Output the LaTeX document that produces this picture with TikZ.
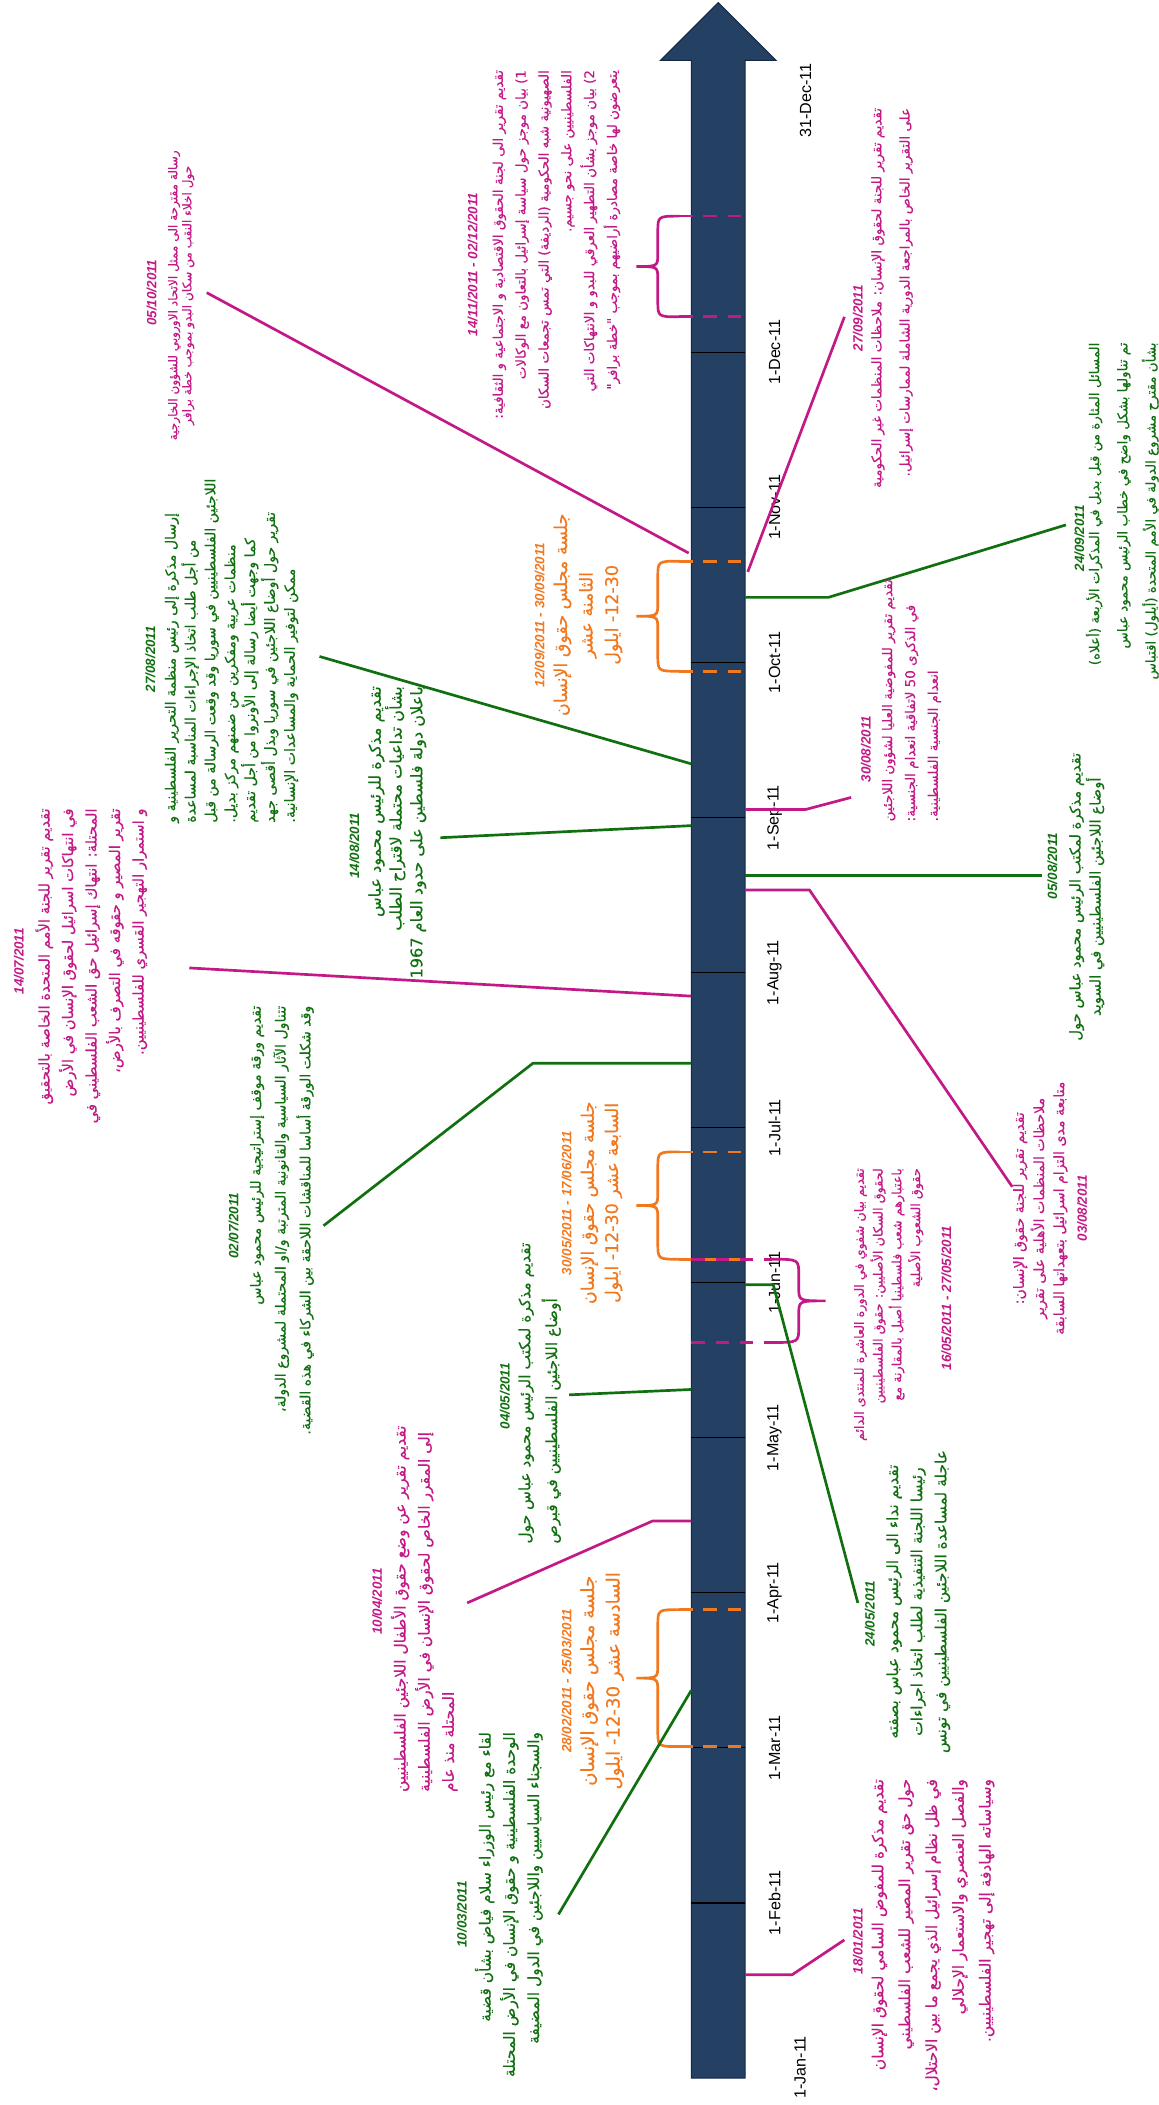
\documentclass[tikz,border=0pt]{standalone}
\usepackage{fontspec}
\setmainfont{Liberation Sans}
\newfontfamily\ar[Script=Arabic,FakeBold=0.4]{DejaVu Sans}
\newfontfamily\lat{Liberation Sans}
\TeXXeTstate=1
\newcommand{\RL}[1]{\beginR #1\endR}
\newcommand{\AF}[2]{\ar\fontsize{#1}{#2}\selectfont}
\definecolor{mag}{RGB}{195,25,135}
\definecolor{grn}{RGB}{16,112,16}
\definecolor{org}{RGB}{242,120,30}
\definecolor{navy}{RGB}{36,64,98}
\definecolor{navyd}{RGB}{20,40,70}
\newcommand{\brk}[5]{% style, flat x, tip x, ytop, ybot
 \pgfmathsetmacro\bmx{(#2+#3)/2}\pgfmathsetmacro\bmy{(#4+#5)/2}
 \draw[#1] (#2,#4) .. controls (\bmx,#4) .. (\bmx,#4+12) -- (\bmx,\bmy-10) .. controls (\bmx,\bmy) .. (#3,\bmy) .. controls (\bmx,\bmy) .. (\bmx,\bmy+10) -- (\bmx,#5-12) .. controls (\bmx,#5) .. (#2,#5);}
\tikzset{
 dt/.style={rotate=90, inner sep=0pt, font=\lat\bfseries\itshape\fontsize{10}{12}\selectfont},
 bd/.style={rotate=90, inner sep=0pt},
 mlab/.style={rotate=90, inner sep=0pt, font=\lat\fontsize{12}{14}\selectfont},
 con/.style={line width=2pt},
 dsh/.style={line width=2pt, dash pattern=on 10pt off 8pt},
 brkl/.style={line width=2pt},
 divl/.style={line width=0.8pt, black}
}
\begin{document}
\begin{tikzpicture}[x=1pt,y=-1pt]
\useasboundingbox (0,0) rectangle (863,1568);
\clip (0,0) rectangle (863,1568);
% timeline arrow
\fill[navy, draw=navyd, line width=0.8pt] (515,1548) -- (515,45) -- (492,45) -- (535,2) -- (578,45) -- (555,45) -- (555,1548) -- cycle;
\foreach \yy in {1417.5,1302,1186.5,1071,955.5,840,724.5,609,493.5,378,262.5}
  \draw[divl] (515,\yy) -- (555,\yy);
% month labels
\node[mlab] (m1) at (596,1540) {1-Jan-11};
\node[mlab] (m2) at (577,1417.5) {1-Feb-11};
\node[mlab] (m3) at (577,1302) {1-Mar-11};
\node[mlab] (m4) at (577,1186.5) {1-Apr-11};
\node[mlab] (m5) at (577,1071) {1-May-11};
\node[mlab] (m6) at (577,955.5) {1-Jun-11};
\node[mlab] (m7) at (577,840) {1-Jul-11};
\node[mlab] (m8) at (577,724.5) {1-Aug-11};
\node[mlab] (m9) at (577,609) {1-Sep-11};
\node[mlab] (m10) at (577,493.5) {1-Oct-11};
\node[mlab] (m11) at (577,378) {1-Nov-11};
\node[mlab] (m12) at (577,262.5) {1-Dec-11};
\node[mlab] (m13) at (600,75) {31-Dec-11};

% ---------- brackets ----------
\draw[dsh, mag] (506,161) -- (555,161);
\draw[dsh, mag] (506,236) -- (555,236);
\brk{brkl, mag}{506}{474}{161}{236}
\draw[dsh, org] (506,418) -- (555,418);
\draw[dsh, org] (506,500) -- (555,500);
\brk{brkl, org}{506}{474}{418}{500}
\draw[dsh, org] (506,858) -- (555,858);
\draw[dsh, org] (506,938) -- (555,938);
\brk{brkl, org}{506}{474}{858}{938}
\draw[dsh, org] (506,1199) -- (555,1199);
\draw[dsh, org] (506,1301) -- (555,1301);
\brk{brkl, org}{506}{474}{1199}{1301}
\draw[dsh, mag] (515,938) -- (575,938);
\draw[dsh, mag] (515,1000) -- (575,1000);
\brk{brkl, mag}{575}{615}{938}{1000}

% ---------- A 05/10/2011 ----------
\node[dt, text=mag] (dA) at (113,218) {05/10/2011};
\node[bd, text=mag, font=\AF{9}{10.5}, align=center] (bA) at (135,220)
 {\RL{رسالة مقترحة الى ممثل الاتحاد الاوروبي للشؤون الخارجية}\\\RL{حول اخلاء النقب من سكان البدو بموجب خطة برافر}};
\coordinate (cA1) at (154,218); \coordinate (cA2) at (513,412);
\draw[con, mag] (cA1) -- (cA2);

% ---------- B 14/11 - 02/12 ----------
\node[dt, text=mag] (dB) at (352,197) {14/11/2011 - 02/12/2011};
\node[bd, text=mag, font=\AF{10}{17}, align=right, anchor=east] (bB) at (414.5,52)
 {\RL{تقديم تقرير الى لجنة الحقوق الاقتصادية و الاجتماعية و الثقافية:}\\
  \RL{1) بيان موجز حول سياسة إسرائيل بالتعاون مع الوكالات}\\
  \RL{الصهيونية شبه الحكومية (الرديفة) التي تمس تجمعات السكان}\\
  \RL{الفلسطينيين على نحو جسيم.}\\
  \RL{2) بيان موجز بشأن التطهير العرقي للبدو و الانتهاكات التي}\\
  \RL{يتعرضون لها خاصة مصادرة أراضيهم بموجب "خطة برافر"}};

% ---------- C 27/09/2011 ----------
\node[dt, text=mag] (dC) at (639,237) {27/09/2011};
\node[bd, text=mag, font=\AF{10}{21}, align=right] (bC) at (664.5,222)
 {\RL{تقديم تقرير للجنة لحقوق الإنسان: ملاحظات المنظمات غير الحكومية}\\
  \RL{على التقرير الخاص بالمراجعة الدورية الشاملة لممارسات إسرائيل.}};
\coordinate (cC1) at (629,236); \coordinate (cC2) at (557,426);
\draw[con, mag] (cC1) -- (cC2);

% ---------- D 24/09/2011 ----------
\node[dt, text=grn] (dD) at (804,401) {24/09/2011};
\node[bd, text=grn, font=\AF{10}{21}, align=right, anchor=east] (bD) at (836,255)
 {\RL{المسائل المثارة من قبل بديل في المذكرات الأربعة (أعلاه)}\\
  \RL{تم تناولها بشكل واضح في خطاب الرئيس محمود عباس}\\
  \RL{بشأن مقترح مشروع الدولة في الأمم المتحدة (أيلول) اقتباس}};
\coordinate (cD1) at (555,445); \coordinate (cD2) at (794,391);
\draw[con, grn] (cD1) -- (617,445) -- (cD2);

% ---------- E 27/08/2011 ----------
\node[dt, text=grn] (dE) at (112,491) {27/08/2011};
\node[bd, text=grn, font=\AF{10.5}{14.8}, align=left, anchor=west] (bE) at (172.5,613)
 {\RL{إرسال مذكرة إلى رئيس منظمة التحرير الفلسطينية و}\\
  \RL{من أجل طلب اتخاذ الإجراءات المناسبة لمساعدة}\\
  \RL{اللاجئين الفلسطينيين في سوريا وقد وقعت الرسالة من قبل}\\
  \RL{منظمات عربية ومفكرين من ضمنهم مركز بديل.}\\
  \RL{كما وجهت أيضا رسالة إلى الأونروا من أجل تقديم}\\
  \RL{تقرير حول أوضاع اللاجئين في سوريا وبذل أقصى جهد}\\
  \RL{ممكن لتوفير الحماية والمساعدات الإنسانية.}};
\coordinate (cE1) at (238,489); \coordinate (cE2) at (515,569);
\draw[con, grn] (cE1) -- (cE2);

% ---------- F 14/07/2011 ----------
\node[dt, text=mag] (dF) at (14,716) {14/07/2011};
\node[bd, text=mag, font=\AF{11}{17.5}, align=right, anchor=east] (bF) at (68,602)
 {\RL{تقديم تقرير للجنة الأمم المتحدة الخاصة بالتحقيق}\\
  \RL{في انتهاكات اسرائيل لحقوق الإنسان في الأرض}\\
  \RL{المحتلة: انتهاك إسرائيل حق الشعب الفلسطيني في}\\
  \RL{تقرير المصير و حقوقه في التصرف بالأرض،}\\
  \RL{و استمرار التهجير القسري للفلسطينيين.}};
\coordinate (cF1) at (141,721); \coordinate (cF2) at (515,742);
\draw[con, mag] (cF1) -- (cF2);

% ---------- G 14/08/2011 ----------
\node[dt, text=grn] (dG) at (264,630) {14/08/2011};
\node[bd, text=grn, font=\AF{12}{15.5}, align=right] (bG) at (296,620)
 {\RL{تقديم مذكرة للرئيس محمود عباس}\\
  \RL{بشأن تداعيات محتملة لاقتراح الطلب}\\
  \RL{باعلان دولة فلسطين على حدود العام 1967}};
\coordinate (cG1) at (328,624); \coordinate (cG2) at (515,615);
\draw[con, grn] (cG1) -- (cG2);

% ---------- H 12/09 - 30/09 ----------
\node[dt, text=org] (dH) at (402,458) {12/09/2011 - 30/09/2011};
\node[bd, text=org, font=\AF{13}{19}, align=center] (bH) at (438,458)
 {\RL{جلسة مجلس حقوق الإنسان}\\\RL{الثامنة عشر}\\\RL{12-30- ايلول}};

% ---------- I 30/08/2011 ----------
\node[dt, text=mag] (dI) at (645,558) {30/08/2011};
\node[bd, text=mag, font=\AF{10}{17}, align=left, anchor=west] (bI) at (679,612)
 {\RL{تقديم تقرير للمفوضية العليا لشؤون اللاجئين}\\
  \RL{في الذكرى 50 لاتفاقية انعدام الجنسية:}\\
  \RL{انعدام الجنسية الفلسطينية.}};
\coordinate (cI1) at (555,603); \coordinate (cI2) at (634,594);
\draw[con, mag] (cI1) -- (600,603) -- (cI2);

% ---------- J 05/08/2011 ----------
\node[dt, text=grn] (dJ) at (784,645) {05/08/2011};
\node[bd, text=grn, font=\AF{11}{15}, align=center] (bJ) at (809.5,668)
 {\RL{تقديم مذكرة لمكتب الرئيس محمود عباس حول}\\
  \RL{أوضاع اللاجئين الفلسطينيين في السويد}};
\coordinate (cJ1) at (555,652); \coordinate (cJ2) at (776,652);
\draw[con, grn] (cJ1) -- (cJ2);

% ---------- K 03/08/2011 ----------
\node[bd, text=mag, font=\AF{10.5}{15}, align=center] (bK) at (775,900)
 {\RL{تقديم تقرير للجنة حقوق الإنسان:}\\
  \RL{ملاحظات المنظمات الأهلية على تقرير}\\
  \RL{متابعة مدى التزام اسرائيل بتعهداتها السابقة}};
\node[dt, text=mag] (dK) at (806,900) {03/08/2011};
\coordinate (cK1) at (555,663); \coordinate (cK2) at (754,884);
\draw[con, mag] (cK1) -- (603,663) -- (cK2);

% ---------- L 02/07/2011 ----------
\node[dt, text=grn] (dL) at (174,913) {02/07/2011};
\node[bd, text=grn, font=\AF{10.5}{18.5}, align=right, anchor=east] (bL) at (210,749)
 {\RL{تقديم ورقة موقف إستراتيجية للرئيس محمود عباس}\\
  \RL{تتناول الآثار السياسية والقانونية المترتبة و/او المحتملة لمشروع الدولة،}\\
  \RL{وقد شكلت الورقة أساسا للمناقشات اللاحقة بين الشركاء في هذه القضية.}};
\coordinate (cL1) at (241,913); \coordinate (cL2) at (515,792);
\draw[con, grn] (cL1) -- (397,792) -- (cL2);

% ---------- M 30/05 - 17/06 ----------
\node[dt, text=org] (dM) at (422,896) {30/05/2011 - 17/06/2011};
\node[bd, text=org, font=\AF{13}{18}, align=center] (bM) at (448,896)
 {\RL{جلسة مجلس حقوق الإنسان}\\\RL{السابعة عشر 12-30- ايلول}};

% ---------- N 16/05 - 27/05 ----------
\node[bd, text=mag, font=\AF{9.5}{14}, align=right, anchor=east] (bN) at (662,870)
 {\RL{تقديم بيان شفوي في الدورة العاشرة للمنتدى الدائم}\\
  \RL{لحقوق السكان الأصليين: حقوق الفلسطينيين}\\
  \RL{باعتبارهم شعب فلسطينيا أصيل بالمقارنة مع}\\
  \RL{حقوق الشعوب الأصلية}};
\node[dt, text=mag] (dN) at (705,967) {16/05/2011 - 27/05/2011};

% ---------- O 24/05/2011 ----------
\node[dt, text=grn] (dO) at (648,1202) {24/05/2011};
\node[bd, text=grn, font=\AF{11.5}{18}, align=center] (bO) at (684,1193)
 {\RL{تقديم نداء الى الرئيس محمود عباس بصفته}\\
  \RL{رئيسا اللجنة التنفيذية لطلب اتخاذ اجراءات}\\
  \RL{عاجلة لمساعدة اللاجئين الفلسطينيين في تونس}};
\coordinate (cO1) at (555,957); \coordinate (cO2) at (639,1194);
\draw[con, grn] (cO1) -- (576,957) -- (cO2);

% ---------- P 04/05/2011 ----------
\node[dt, text=grn] (dP) at (376,1040) {04/05/2011};
\node[bd, text=grn, font=\AF{11.5}{20}, align=left, anchor=west] (bP) at (402,1150)
 {\RL{تقديم مذكرة لمكتب الرئيس محمود عباس حول}\\
  \RL{أوضاع اللاجئين الفلسطينيين في قبرص}};
\coordinate (cP1) at (424,1039); \coordinate (cP2) at (515,1035);
\draw[con, grn] (cP1) -- (cP2);

% ---------- Q 10/04/2011 ----------
\node[dt, text=mag] (dQ) at (281,1193) {10/04/2011};
\node[bd, text=mag, font=\AF{11.5}{18}, align=left, anchor=west] (bQ) at (316,1335)
 {\RL{تقديم تقرير عن وضع حقوق الأطفال اللاجئين الفلسطينيين}\\
  \RL{إلى المقرر الخاص لحقوق الإنسان في الأرض الفلسطينية}\\
  \RL{المحتلة منذ عام}};
\coordinate (cQ1) at (348,1194); \coordinate (cQ2) at (515,1133);
\draw[con, mag] (cQ1) -- (486,1133) -- (cQ2);

% ---------- R 28/02 - 25/03 ----------
\node[dt, text=org] (dR) at (422,1252) {28/02/2011 - 25/03/2011};
\node[bd, text=org, font=\AF{13.5}{19}, align=center] (bR) at (448.5,1252)
 {\RL{جلسة مجلس حقوق الإنسان}\\\RL{السادسة عشر 12-30- ايلول}};

% ---------- S 10/03/2011 ----------
\node[dt, text=grn] (dS) at (344,1426) {10/03/2011};
\node[bd, text=grn, font=\AF{11.5}{18}, align=right, anchor=east] (bS) at (379,1290)
 {\RL{لقاء مع رئيس الوزراء سلام فياض بشأن قضية}\\
  \RL{الوحدة الفلسطينية و حقوق الإنسان في الأرض المحتلة}\\
  \RL{والسجناء السياسيين واللاجئين في الدول المضيفة}};
\coordinate (cS1) at (416,1426); \coordinate (cS2) at (515,1259);
\draw[con, grn] (cS1) -- (cS2);

% ---------- T 18/01/2011 ----------
\node[dt, text=mag] (dT) at (639,1446) {18/01/2011};
\node[bd, text=mag, font=\AF{11.5}{20}, align=right, anchor=east] (bT) at (695,1325)
 {\RL{تقديم مذكرة للمفوض السامي لحقوق الإنسان}\\
  \RL{حول حق تقرير المصير للشعب الفلسطيني}\\
  \RL{في ظل نظام إسرائيل الذي يجمع ما بين الاحتلال،}\\
  \RL{والفصل العنصري والاستعمار الإحلالي}\\
  \RL{وسياساته الهادفة إلى تهجير الفلسطينيين.}};
\coordinate (cT1) at (555,1471); \coordinate (cT2) at (629,1445);
\draw[con, mag] (cT1) -- (590,1471) -- (cT2);
\end{tikzpicture}
\end{document}
